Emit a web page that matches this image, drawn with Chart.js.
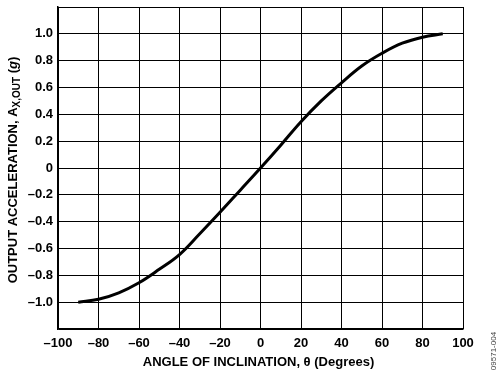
<!DOCTYPE html>
<html>
<head>
<meta charset="utf-8">
<script src="https://cdn.jsdelivr.net/npm/chart.js@4/dist/chart.umd.min.js"></script>
<style>
html,body{margin:0;padding:0;background:#fff;}
#wrap{position:relative;width:500px;height:380px;}
</style>
</head>
<body>
<div id="wrap"><canvas id="c" width="500" height="380"></canvas></div>
<script>
const angles = [-90,-80,-70,-60,-50,-40,-30,-20,-10,0,10,20,30,40,50,60,70,80,90];
const accel  = [-1.0,-0.978,-0.93,-0.855,-0.755,-0.645,-0.49,-0.33,-0.165,0,0.17,0.345,0.5,0.635,0.76,0.855,0.93,0.975,1.0];
const xTitle = 'ANGLE OF INCLINATION, θ (Degrees)';
const yTitleParts = [
  {t:'OUTPUT ACCELERATION, A', sub:false, it:false},
  {t:'X,OUT', sub:true, it:false},
  {t:' (', sub:false, it:false},
  {t:'g', sub:false, it:true},
  {t:')', sub:false, it:false}
];
const figId = '09571-004';

const FONT = '"Liberation Sans", Arial, sans-serif';
const dash = v => (v < 0 ? '\u2013' : '');

const titlesPlugin = {
  id:'titles',
  afterDraw(chart){
    const ctx = chart.ctx;
    const area = chart.chartArea;
    ctx.save();
    ctx.fillStyle = '#000';
    ctx.font = 'bold 13px ' + FONT;
    ctx.textAlign = 'center';
    ctx.textBaseline = 'middle';
    ctx.fillText(xTitle, (area.left + area.right)/2 - 2, 362);
    ctx.restore();
    ctx.save();
    ctx.fillStyle = '#000';
    const fonts = p => p.sub ? 'bold 10px ' + FONT : (p.it ? 'italic bold 13px ' + FONT : 'bold 13px ' + FONT);
    let total = 0;
    yTitleParts.forEach(p => { ctx.font = fonts(p); total += ctx.measureText(p.t).width; });
    ctx.translate(17, 170);
    ctx.rotate(-Math.PI/2);
    ctx.textBaseline = 'alphabetic';
    ctx.textAlign = 'left';
    let x = -total/2;
    yTitleParts.forEach(p => {
      ctx.font = fonts(p);
      ctx.fillText(p.t, x, p.sub ? 3 : 0);
      x += ctx.measureText(p.t).width;
    });
    ctx.restore();
    ctx.save();
    ctx.fillStyle = '#444';
    ctx.font = '8px ' + FONT;
    ctx.translate(494, 351);
    ctx.rotate(-Math.PI/2);
    ctx.textAlign = 'center';
    ctx.textBaseline = 'middle';
    ctx.fillText(figId, 0, 0);
    ctx.restore();
  }
};

new Chart(document.getElementById('c'), {
  type:'line',
  data:{
    datasets:[{
      data: angles.map((a,i)=>({x:a, y:accel[i]})),
      borderColor:'#000',
      borderWidth:3,
      pointRadius:0,
      fill:false,
      tension:0.4
    }]
  },
  options:{
    responsive:false,
    animation:false,
    layout:{padding:{left:0,top:7,right:37,bottom:0}},
    plugins:{legend:{display:false}, tooltip:{enabled:false}},
    scales:{
      x:{
        type:'linear', min:-100, max:100,
        ticks:{stepSize:20, color:'#000', font:{family:FONT, size:13, weight:'bold'}, padding:7,
          callback:v=>Math.abs(v)<1e-9?'0':dash(v)+Math.abs(v), maxRotation:0},
        grid:{color:'#000', lineWidth:1, drawTicks:false},
        border:{color:'#000', width:1.5},
        afterFit(s){ s.height = 51; s.paddingLeft = 0; s.paddingRight = 0; }
      },
      y:{
        type:'linear', min:-1.2, max:1.2,
        ticks:{stepSize:0.2, color:'#000', font:{family:FONT, size:13, weight:'bold'}, padding:5,
          callback:v=>{ if (Math.abs(Math.abs(v)-1.2)<1e-6) return ''; const r=Math.round(v*10)/10; return Math.abs(r)<1e-9?'0':dash(r)+Math.abs(r).toFixed(1);} },
        grid:{color:'#000', lineWidth:1, drawTicks:false},
        border:{color:'#000', width:1.5},
        afterFit(s){ s.width = 58; s.paddingTop = 0; s.paddingBottom = 0; }
      }
    }
  },
  plugins:[titlesPlugin]
});
</script>
</body>
</html>
